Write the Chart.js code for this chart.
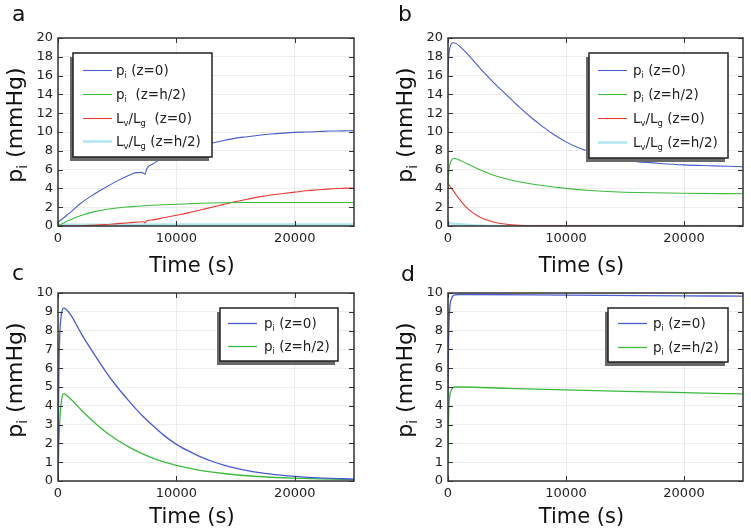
<!DOCTYPE html>
<html>
<head>
<meta charset="utf-8">
<script src="https://cdn.jsdelivr.net/npm/chart.js@4.4.1/dist/chart.umd.min.js"></script>
<style>
  body { margin: 0; background: #fff; }
  #wrap { position: relative; width: 751px; height: 531px; }
  #wrap canvas { position: absolute; left: 0; top: 0; }
</style>
</head>
<body>
<div id="wrap">
  <canvas id="chartA" width="751" height="531"></canvas>
  <canvas id="chartB" width="751" height="531"></canvas>
  <canvas id="chartC" width="751" height="531"></canvas>
  <canvas id="chartD" width="751" height="531"></canvas>
</div>
<script>
// ---- data (time in s, pressure in mmHg) ----
// panel a
var aBlueT  = [0, 500, 1000, 2000, 3000, 4000, 5000, 6000, 6500, 7000, 7300, 7350, 7500, 8000, 9000, 10000, 11000, 12000, 13000, 14000, 15000, 16000, 17000, 18000, 19000, 20000, 21000, 22000, 23000, 24000, 25000];
var aBlueP  = [0.4, 0.9, 1.4, 2.5, 3.35, 4.1, 4.8, 5.4, 5.65, 5.7, 5.55, 5.5, 6.1, 6.6, 7.3, 7.85, 8.2, 8.5, 8.8, 9.1, 9.35, 9.5, 9.65, 9.78, 9.88, 9.96, 10.0, 10.05, 10.1, 10.12, 10.15];
var aGreenT = [0, 500, 1000, 2000, 3000, 4000, 5000, 6000, 7000, 8000, 10000, 12000, 14000, 16000, 25000];
var aGreenP = [0, 0.35, 0.65, 1.15, 1.5, 1.75, 1.92, 2.03, 2.12, 2.2, 2.32, 2.42, 2.48, 2.5, 2.5];
var aRedT   = [0, 2000, 3000, 4000, 5000, 6000, 7200, 7350, 7500, 8000, 9000, 10000, 11000, 12000, 13000, 14000, 15000, 16000, 17000, 18000, 19000, 20000, 21000, 22000, 23000, 24000, 25000];
var aRedP   = [0, 0.02, 0.08, 0.15, 0.25, 0.35, 0.45, 0.35, 0.55, 0.65, 0.9, 1.15, 1.4, 1.7, 2.0, 2.3, 2.6, 2.85, 3.1, 3.3, 3.45, 3.6, 3.75, 3.85, 3.95, 4.0, 4.05];
var aCyanT  = [0, 5000, 10000, 15000, 20000, 25000];
var aCyanP  = [0.12, 0.14, 0.15, 0.15, 0.15, 0.15];

// panel b
var bBlueT  = [0, 50, 150, 300, 450, 700, 1000, 1500, 2000, 3000, 4000, 5000, 6000, 7000, 8000, 9000, 10000, 11000, 12000, 13000, 14000, 15000, 16000, 18000, 20000, 22500, 25000];
var bBlueP  = [16, 17.8, 18.9, 19.4, 19.5, 19.4, 19.1, 18.5, 17.8, 16.4, 15.1, 13.9, 12.7, 11.6, 10.6, 9.7, 8.95, 8.35, 7.9, 7.5, 7.2, 7.0, 6.85, 6.65, 6.5, 6.4, 6.3];
var bGreenT = [0, 50, 150, 300, 500, 800, 1500, 2500, 4000, 5000, 6000, 8000, 10000, 12000, 14000, 16000, 20000, 25000];
var bGreenP = [4.0, 5.5, 6.5, 7.0, 7.2, 7.1, 6.7, 6.1, 5.35, 5.0, 4.7, 4.3, 4.0, 3.78, 3.65, 3.57, 3.48, 3.43];
var bRedT   = [0, 300, 700, 1000, 1500, 2000, 2500, 3000, 3500, 4000, 5000, 6000, 7000, 8000, 25000];
var bRedP   = [4.5, 4.0, 3.3, 2.8, 2.05, 1.5, 1.1, 0.78, 0.55, 0.38, 0.18, 0.08, 0.03, 0.01, 0];
var bCyanT  = [0, 500, 1000, 2000, 3000, 4000, 25000];
var bCyanP  = [0.3, 0.25, 0.18, 0.08, 0.03, 0.01, 0];

// panel c
var cBlueT  = [0, 30, 80, 150, 250, 480, 1000, 2000, 3000, 4000, 5000, 6000, 7000, 8000, 9000, 10000, 11000, 12000, 13000, 14000, 15000, 16000, 17000, 18000, 19000, 20000, 22000, 24000, 25000];
var cBlueP  = [0, 3, 6, 7.8, 8.7, 9.2, 8.9, 7.8, 6.8, 5.85, 5.0, 4.25, 3.55, 2.95, 2.4, 1.95, 1.6, 1.3, 1.05, 0.85, 0.68, 0.55, 0.45, 0.37, 0.3, 0.25, 0.17, 0.12, 0.1];
var cGreenT = [0, 50, 150, 300, 480, 1000, 2000, 3000, 4000, 5000, 6000, 7000, 8000, 9000, 10000, 12000, 14000, 16000, 18000, 20000, 22000, 25000];
var cGreenP = [0, 1.5, 3.2, 4.3, 4.65, 4.4, 3.75, 3.15, 2.62, 2.18, 1.8, 1.48, 1.22, 1.0, 0.83, 0.57, 0.4, 0.28, 0.2, 0.15, 0.11, 0.07];

// panel d
var dBlueT  = [0, 50, 150, 300, 600, 1000, 10000, 20000, 25000];
var dBlueP  = [4.5, 7.5, 9.2, 9.7, 9.9, 9.92, 9.89, 9.85, 9.83];
var dGreenT = [0, 50, 150, 300, 600, 1000, 5000, 10000, 15000, 20000, 25000];
var dGreenP = [1.0, 3.5, 4.5, 4.85, 5.0, 5.0, 4.93, 4.85, 4.77, 4.7, 4.63];

var xTicks = [0, 10000, 20000];

// ---- helpers ----
var FONT = '"DejaVu Sans", Verdana, sans-serif';
var BLUE = '#4a5ccc', GREEN = '#3dba3d', RED = '#e53935', CYAN = '#aee6ee';

function pts(t, v) {
  return t.map(function (x, i) { return { x: x, y: v[i] }; });
}

function series(t, v, color, width) {
  return {
    data: pts(t, v),
    borderColor: color,
    borderWidth: width || 1.2,
    pointRadius: 0,
    fill: false,
    cubicInterpolationMode: 'monotone'
  };
}

// draw text made of [string, isSubscript] pieces
function rich(ctx, parts, x, y, size, align) {
  var w = 0;
  parts.forEach(function (p) {
    ctx.font = (p[1] ? size * 0.62 : size) + 'px ' + FONT;
    w += ctx.measureText(p[0]).width;
  });
  var cx = align === 'center' ? x - w / 2 : x;
  parts.forEach(function (p) {
    ctx.font = (p[1] ? size * 0.62 : size) + 'px ' + FONT;
    ctx.fillText(p[0], cx, p[1] ? y + size * 0.22 : y);
    cx += ctx.measureText(p[0]).width;
  });
}

var PI_LABEL = [['p', 0], ['i', 1]];
var LBL_P0   = [['p', 0], ['i', 1], [' (z=0)', 0]];
var LBL_PH   = [['p', 0], ['i', 1], [' (z=h/2)', 0]];
var LBL_PH2  = [['p', 0], ['i', 1], ['  (z=h/2)', 0]];
var LBL_L0   = [['L', 0], ['v', 1], ['/L', 0], ['g', 1], [' (z=0)', 0]];
var LBL_L02  = [['L', 0], ['v', 1], ['/L', 0], ['g', 1], ['  (z=0)', 0]];
var LBL_LH   = [['L', 0], ['v', 1], ['/L', 0], ['g', 1], [' (z=h/2)', 0]];

// frame with inward ticks, boxed legend with shadow, titles
var framePlugin = {
  id: 'frame',
  afterDatasetsDraw: function (chart, args, o) {
    var ctx = chart.ctx, a = chart.chartArea, x = chart.scales.x, y = chart.scales.y;
    ctx.save();
    ctx.strokeStyle = '#333';
    ctx.lineWidth = 1;
    ctx.beginPath();
    y.ticks.forEach(function (t) {
      var py = Math.round(y.getPixelForValue(t.value)) + 0.5;
      ctx.moveTo(a.left, py); ctx.lineTo(a.left + 5, py);
      ctx.moveTo(a.right - 5, py); ctx.lineTo(a.right, py);
    });
    x.ticks.forEach(function (t) {
      var px = Math.round(x.getPixelForValue(t.value)) + 0.5;
      ctx.moveTo(px, a.top); ctx.lineTo(px, a.top + 5);
      ctx.moveTo(px, a.bottom - 5); ctx.lineTo(px, a.bottom);
    });
    ctx.stroke();
    ctx.lineWidth = 1.5;
    ctx.strokeRect(a.left, a.top, a.right - a.left, a.bottom - a.top);

    // legend
    var L = o.legend;
    var b = L.box;
    ctx.fillStyle = '#6a6a6a';
    ctx.fillRect(b[0] - 3, b[1] + 4, b[2], b[3]);
    ctx.fillStyle = '#fff';
    ctx.fillRect(b[0], b[1], b[2], b[3]);
    ctx.strokeStyle = '#222';
    ctx.lineWidth = 1.5;
    ctx.strokeRect(b[0], b[1], b[2], b[3]);
    L.labels.forEach(function (lab, i) {
      var ds = chart.data.datasets[i];
      var ry = L.rows[i];
      ctx.strokeStyle = ds.borderColor;
      ctx.lineWidth = ds.borderWidth;
      ctx.beginPath();
      ctx.moveTo(L.sample[0], ry + 0.5);
      ctx.lineTo(L.sample[1], ry + 0.5);
      ctx.stroke();
      ctx.fillStyle = '#222';
      ctx.textBaseline = 'alphabetic';
      rich(ctx, lab, L.textX, ry + 5, 13.5, 'left');
    });

    // titles
    ctx.fillStyle = '#111';
    ctx.font = '22px ' + FONT;
    ctx.fillText(o.letter, o.letterPos[0], o.letterPos[1]);
    rich(ctx, [['Time (s)', 0]], (a.left + a.right) / 2 - 14, o.xTitleY, 21, 'center');
    ctx.save();
    ctx.translate(a.left - 43, (a.top + a.bottom) / 2 - 7);
    ctx.rotate(-Math.PI / 2);
    rich(ctx, PI_LABEL.concat([[' (mmHg)', 0]]), 0, 7, 22, 'center');
    ctx.restore();
    ctx.restore();
  }
};

function makeChart(id, datasets, yMax, yStep, pad, frame) {
  return new Chart(document.getElementById(id), {
    type: 'line',
    data: { datasets: datasets },
    plugins: [framePlugin],
    options: {
      responsive: false,
      animation: false,
      events: [],
      layout: { padding: pad },
      plugins: {
        legend: { display: false },
        tooltip: { enabled: false },
        frame: frame
      },
      scales: {
        x: {
          type: 'linear',
          min: 0,
          max: 25000,
          afterBuildTicks: function (s) { s.ticks = xTicks.map(function (v) { return { value: v }; }); },
          afterFit: function (s) { s.height = 39; },
          border: { display: false },
          grid: { color: '#ececec', drawTicks: false },
          ticks: {
            padding: 5,
            color: '#222',
            font: { family: FONT, size: 13 },
            maxRotation: 0,
            callback: function (v) { return String(v); }
          }
        },
        y: {
          min: 0,
          max: yMax,
          afterFit: function (s) { s.width = 58; },
          border: { display: false },
          grid: { color: '#ececec', drawTicks: false },
          ticks: {
            stepSize: yStep,
            padding: 5,
            color: '#222',
            font: { family: FONT, size: 13 },
            callback: function (v) { return String(v); }
          }
        }
      }
    }
  });
}

var chartA = makeChart('chartA', [
  series(aBlueT, aBlueP, BLUE, 1.1),
  series(aGreenT, aGreenP, GREEN, 1.1),
  series(aRedT, aRedP, RED, 1.1),
  series(aCyanT, aCyanP, CYAN, 2.5)
], 20, 2, { left: 0, right: 397, top: 38, bottom: 266 }, {
  letter: 'a', letterPos: [12, 21], xTitleY: 272,
  legend: { box: [73, 53, 139, 104], rows: [70, 94, 118, 141], sample: [83, 112], textX: 116,
            labels: [LBL_P0, LBL_PH2, LBL_L02, LBL_LH] }
});

var chartB = makeChart('chartB', [
  series(bBlueT, bBlueP, BLUE, 1.1),
  series(bGreenT, bGreenP, GREEN, 1.1),
  series(bRedT, bRedP, RED, 1.1),
  series(bCyanT, bCyanP, CYAN, 2.5)
], 20, 2, { left: 390, right: 8, top: 38, bottom: 266 }, {
  letter: 'b', letterPos: [398, 21], xTitleY: 272,
  legend: { box: [589, 53, 139, 105], rows: [70, 94, 118, 142], sample: [598, 627], textX: 633,
            labels: [LBL_P0, LBL_PH, LBL_L0, LBL_LH] }
});

var chartC = makeChart('chartC', [
  series(cBlueT, cBlueP, BLUE, 1.3),
  series(cGreenT, cGreenP, GREEN, 1.3)
], 10, 1, { left: 0, right: 397, top: 293, bottom: 11 }, {
  letter: 'c', letterPos: [12, 280], xTitleY: 523,
  legend: { box: [220, 308, 118, 53], rows: [323, 346], sample: [228, 257], textX: 264,
            labels: [LBL_P0, LBL_PH] }
});

var chartD = makeChart('chartD', [
  series(dBlueT, dBlueP, BLUE, 1.3),
  series(dGreenT, dGreenP, GREEN, 1.3)
], 10, 1, { left: 390, right: 8, top: 293, bottom: 11 }, {
  letter: 'd', letterPos: [401, 281], xTitleY: 523,
  legend: { box: [608, 308, 120, 54], rows: [323, 347], sample: [618, 647], textX: 653,
            labels: [LBL_P0, LBL_PH] }
});
</script>
</body>
</html>
